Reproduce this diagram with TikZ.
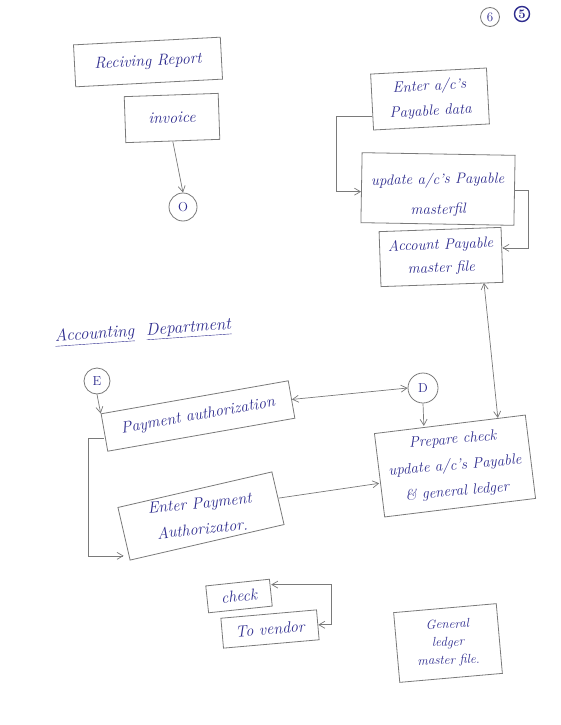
\documentclass[tikz,border=0pt]{standalone}
\usetikzlibrary{calc,arrows.meta}
\definecolor{ink}{HTML}{2E2C8E}
\definecolor{pencil}{HTML}{7A7A7A}
\tikzset{
  x=1pt,y=-1pt,
  box/.style={draw=pencil,line width=0.8pt,text=ink,align=center,inner sep=2pt,font=\fontsize{16}{26}\selectfont\itshape},
  txt/.style={text=ink,align=center,inner sep=0pt},
  circ/.style={draw=pencil,line width=0.8pt,circle,text=ink,inner sep=0pt,font=\fontsize{13}{15}\selectfont},
  conn/.style={draw=pencil,line width=0.7pt,-{Straight Barb[length=6pt,width=7pt]}},
  dconn/.style={draw=pencil,line width=0.7pt,{Straight Barb[length=6pt,width=7pt]}-{Straight Barb[length=6pt,width=7pt]}},
  lbl/.style={text=ink,font=\fontsize{17}{20}\selectfont\itshape}
}
\begin{document}
\begin{tikzpicture}
\useasboundingbox[fill=white] (0,0) rectangle (560,725);

% top right page marks
\node[circ,minimum size=19pt] (six) at (490,17) {6};
\node[circ,draw=ink,line width=1.4pt,minimum size=15pt] (five) at (522,14) {\bfseries 5};

% receiving / invoice
\node[box,minimum width=147pt,minimum height=42pt,rotate=3] (rr) at (148,62) {Reciving Report};
\node[box,minimum width=94pt,minimum height=46pt,rotate=2] (inv) at (172,118) {invoice};
\node[circ,minimum size=28pt] (O) at (183,207) {O};
\draw[conn] (inv.south) -- (O.north);

% payable side
\node[box,minimum width=116pt,minimum height=56pt,rotate=3] (ent) at (430,99) {};
\node[txt,font=\fontsize{15}{25}\selectfont\itshape,rotate=3] (entt) at (ent.center) {Enter a/c's\\Payable data};
\node[box,minimum width=153pt,minimum height=70pt,rotate=-1] (upd) at (438,189) {};
\node[txt,font=\fontsize{15}{30}\selectfont\itshape,rotate=1] (updt) at ($(upd.center)+(0,6)$) {update a/c's Payable\\masterfil};
\node[box,minimum width=122pt,minimum height=55pt,rotate=2] (ap) at (441,257) {};
\node[txt,font=\fontsize{15}{23}\selectfont\itshape,rotate=2] (apt) at (ap.center) {Account Payable\\master file};
\draw[conn] ($(ent.west)+(0,14)$) -- ++(-35,0) |- ($(upd.west)+(0,4)$);
\draw[conn] (upd.east) -- ++(13,0) |- ($(ap.east)+(0,-7)$);

% accounting department
\node[lbl,rotate=4] (acc) at (143,332) {\underline{Accounting}\ \ \underline{Department}};

\node[circ,minimum size=26pt] (E) at (97,381) {E};
\node[box,minimum width=190pt,minimum height=38pt,rotate=10] (pay) at (198,416) {Payment authorization};
\draw[conn] (E.south) -- (pay.north west);

\node[circ,minimum size=30pt] (D) at (423,388) {D};
\draw[dconn] (pay.east) -- (D.west);

\node[box,minimum width=152pt,minimum height=84pt,rotate=7] (prep) at (455,466) {};
\node[txt,font=\fontsize{15}{26}\selectfont\itshape,rotate=5] (prept) at (prep.center) {Prepare check\\update a/c's Payable\\\& general ledger};
\draw[conn] (D.south) -- ($(prep.north)+(-26,2)$);
\draw[dconn] ($(ap.south)+(42,-2)$) -- ($(prep.north)+(48,-6)$);

\node[box,minimum width=158pt,minimum height=54pt,rotate=13] (epa) at (201,516) {};
\node[txt,font=\fontsize{16}{26}\selectfont\itshape,rotate=6] (epat) at (epa.center) {Enter Payment\\Authorizator.};
\draw[conn] ($(pay.west)+(0,6)$) -- ++(-16,0) |- ($(epa.west)+(0,22)$);
\draw[conn] (epa.east) -- ($(prep.west)+(0,8)$);

% check to vendor
\node[box,minimum width=64pt,minimum height=27pt,rotate=6] (chk) at (239,596) {check};
\node[box,minimum width=96pt,minimum height=30pt,rotate=5] (tov) at (270,629) {To vendor};
\draw[dconn] (tov.east) -- ++(13,0) |- ($(chk.east)+(0,-8)$);

% general ledger
\node[box,minimum width=103pt,minimum height=70pt,rotate=5] (glm) at (448,643) {};
\node[txt,font=\fontsize{13}{18}\selectfont\itshape,rotate=2] (glmt) at (glm.center) {General\\ledger\\master file.};
\end{tikzpicture}
\end{document}
